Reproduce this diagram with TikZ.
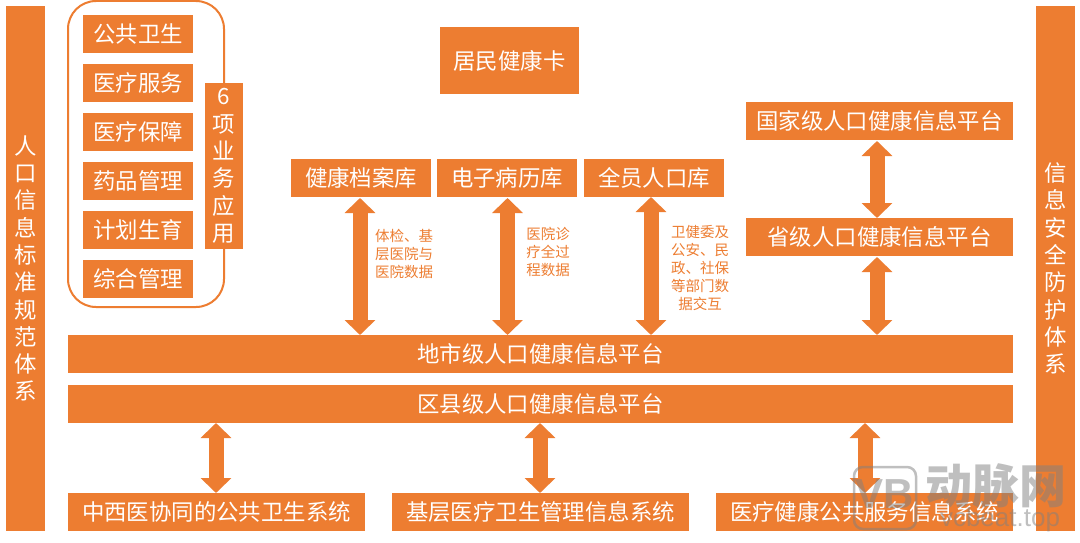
\documentclass[tikz,border=0pt]{standalone}
\usepackage{fontspec}
\setmainfont{Noto Sans CJK SC}
\newfontfamily\wmfont{Liberation Sans}
\usetikzlibrary{arrows.meta}
\definecolor{org}{HTML}{ED7D31}
\tikzset{
  px/.style={x=1pt,y=-1pt},
  box/.style={fill=org,text=white,inner sep=0pt,outer sep=0pt,font=\fontsize{22.4}{27.3}\selectfont,align=center},
  note/.style={text=org,inner sep=0pt,outer sep=0pt,font=\fontsize{14.5}{18}\selectfont,align=center},
  biarrow/.style={org,line width=15pt,{Triangle[length=15pt,width=30pt]}-{Triangle[length=15pt,width=30pt]}},
  frame/.style={draw=org,line width=2pt,rounded corners=28pt,fill=white},
  wm/.style={text=gray,opacity=.5,inner sep=0pt}
}
\newcommand{\bx}[6]{\node[box,minimum width=#4pt-#3pt,minimum height=#6pt-#5pt] (#1) at ({(#3+#4)/2},{(#5+#6)/2}) {#2};}
\begin{document}
\begin{tikzpicture}[px]
\useasboundingbox (0,0) rectangle (1080,543);
\fill[white] (0,0) rectangle (1080,543);
% side bars
\bx{leftbar}{人\\口\\信\\息\\标\\准\\规\\范\\体\\系}{6}{45}{6}{531}
\bx{rightbar}{信\\息\\安\\全\\防\\护\\体\\系}{1036}{1075}{6}{531}
% business applications
\node[frame,minimum width=156pt,minimum height=306pt,inner sep=0pt] (apps) at (146,154) {};
\bx{a1}{公共卫生}{83}{193}{15}{53}
\bx{a2}{医疗服务}{83}{193}{64}{102}
\bx{a3}{医疗保障}{83}{193}{113}{151}
\bx{a4}{药品管理}{83}{193}{162}{200}
\bx{a5}{计划生育}{83}{193}{211}{249}
\bx{a6}{综合管理}{83}{193}{260}{298}
\bx{six}{6\\项\\业\\务\\应\\用}{205}{243}{83}{249}
% top
\bx{card}{居民健康卡}{440}{579}{27}{94}
\bx{nat}{国家级人口健康信息平台}{746}{1013}{102}{140}
\bx{prov}{省级人口健康信息平台}{746}{1013}{218}{256}
\bx{rec}{健康档案库}{291}{431}{159}{197}
\bx{emr}{电子病历库}{437}{577}{159}{197}
\bx{pop}{全员人口库}{584}{724}{159}{197}
% platforms
\bx{city}{地市级人口健康信息平台}{68}{1013}{335}{373}
\bx{county}{区县级人口健康信息平台}{68}{1013}{385}{423}
% bottom systems
\bx{s1}{中西医协同的公共卫生系统}{68}{365}{493}{531}
\bx{s2}{基层医疗卫生管理信息系统}{392}{689}{493}{531}
\bx{s3}{医疗健康公共服务信息系统}{716}{1013}{493}{531}
% arrows
\coordinate (c1) at (360,198);
\coordinate (c2) at (507.5,198);
\coordinate (c3) at (651,197);
\coordinate (c4) at (877,141);
\coordinate (c5) at (877,257);
\coordinate (c6) at (216,423);
\coordinate (c7) at (540,423);
\coordinate (c8) at (865,423);
\draw[biarrow] (c1) -- (c1 |- city.north);
\draw[biarrow] (c2) -- (c2 |- city.north);
\draw[biarrow] (c3) -- (c3 |- city.north);
\draw[biarrow] (c4) -- (c4 |- prov.north);
\draw[biarrow] (c5) -- (c5 |- city.north);
\draw[biarrow] (c6) -- (c6 |- s1.north);
\draw[biarrow] (c7) -- (c7 |- s2.north);
\draw[biarrow] (c8) -- (c8 |- s3.north);
% notes
\node[note] (n1) at (404,254) {体检、基\\层医院与\\医院数据};
\node[note] (n2) at (548,252) {医院诊\\疗全过\\程数据};
\node[note] (n3) at (700,268) {卫健委及\\公安、民\\政、社保\\等部门数\\据交互};
% watermark
\draw[gray,opacity=.5,line width=2.5pt,rounded corners=9pt] (854,467) rectangle (916,529);
\node[wm,font=\wmfont\bfseries\fontsize{42}{42}\selectfont] (wm0) at (885,494) {VB};
\node[wm,font=\bfseries\fontsize{47}{47}\selectfont] (wm1) at (996,486) {动脉网};
\node[wm,font=\wmfont\fontsize{26}{26}\selectfont] (wm2) at (1000,520) {vcbeat.top};
\end{tikzpicture}
\end{document}
